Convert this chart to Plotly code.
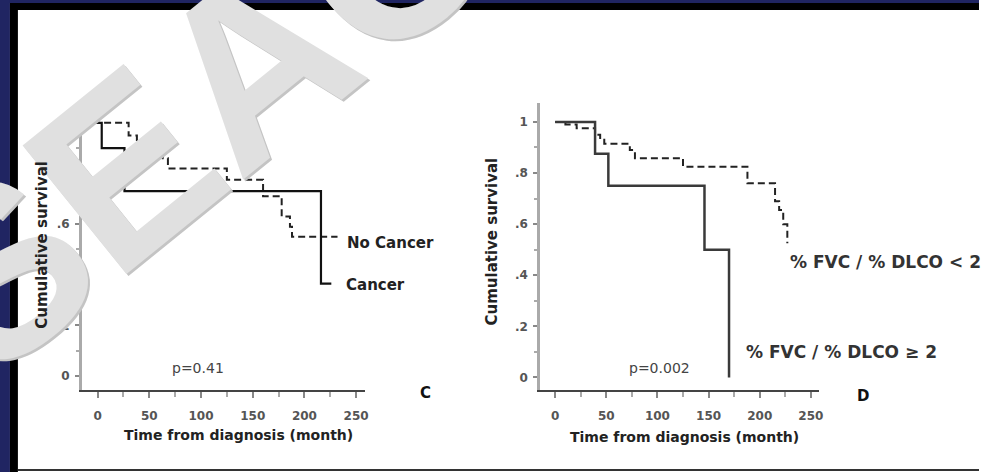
import plotly.graph_objects as go

W, H = 984, 472

# ---------------- data ----------------
# Panel C  (curves start at the y axis in the picture)
cancer_t = [-15, 4, 26, 216, 226]
cancer_s = [1.0, 0.90, 0.73, 0.365, 0.365]
nocancer_t = [-15, 30, 38, 63, 68, 125, 160, 178, 186, 188, 232]
nocancer_s = [1.0, 0.95, 0.90, 0.86, 0.82, 0.775, 0.71, 0.63, 0.59, 0.55, 0.55]
# Panel D
low_t = [0, 10, 21, 39, 44, 48, 73, 78, 125, 188, 215, 219, 223, 227]
low_s = [1.0, 0.99, 0.975, 0.95, 0.93, 0.915, 0.89, 0.858, 0.825, 0.76, 0.69, 0.655, 0.60, 0.525]
high_t = [0, 39, 52, 146, 170]
high_s = [1.0, 0.875, 0.75, 0.5, 0.0]

x_ticks = [0, 50, 100, 150, 200, 250]
y_ticks = [0, 0.2, 0.4, 0.6, 0.8, 1.0]
y_ticktext = ["0", ".2", ".4", ".6", ".8", "1"]

p_left = "p=0.41"
p_right = "p=0.002"
label_cancer = "Cancer"
label_nocancer = "No Cancer"
label_low = "% FVC / % DLCO < 2"
label_high = "% FVC / % DLCO \u2265 2"
x_title = "Time from diagnosis (month)"
y_title = "Cumulative survival"
watermark = "SEAC"


def px(x):
    return x / W


def py(y):
    return 1 - y / H


FONT = "DejaVu Sans"
fig = go.Figure()

fig.add_trace(go.Scatter(x=nocancer_t, y=nocancer_s, mode="lines", line_shape="hv",
                         line=dict(color="#222", width=2, dash="7px,4px"),
                         xaxis="x", yaxis="y", showlegend=False))
fig.add_trace(go.Scatter(x=cancer_t, y=cancer_s, mode="lines", line_shape="hv",
                         line=dict(color="#111", width=2.2),
                         xaxis="x", yaxis="y", showlegend=False))
fig.add_trace(go.Scatter(x=low_t, y=low_s, mode="lines", line_shape="hv",
                         line=dict(color="#222", width=2, dash="7px,4px"),
                         xaxis="x2", yaxis="y2", showlegend=False))
fig.add_trace(go.Scatter(x=high_t, y=high_s, mode="lines", line_shape="hv",
                         line=dict(color="#3a3a3a", width=2.5),
                         xaxis="x2", yaxis="y2", showlegend=False))

tickfont = dict(family=FONT, size=12, color="#555", weight="bold")

xcommon = dict(tickvals=x_ticks, ticks="outside", ticklen=6, tickwidth=1.5,
               tickcolor="#888", showline=True, linecolor="#444", linewidth=2,
               showgrid=False, zeroline=False, tickfont=tickfont,
               ticklabelstandoff=8,
               minor=dict(ticks="outside", dtick=25, ticklen=5, tickcolor="#aaa", tickwidth=1.5))
ycommon = dict(tickvals=y_ticks, ticktext=y_ticktext, ticks="outside", ticklen=4,
               tickwidth=1.5, tickcolor="#888", showline=True, linecolor="#aaa",
               linewidth=3, showgrid=False, zeroline=False, tickfont=tickfont,
               ticklabelstandoff=3,
               minor=dict(ticks="outside", dtick=0.1, ticklen=3, tickcolor="#aaa", tickwidth=1.5))

fig.update_layout(
    width=W, height=H, margin=dict(l=0, r=0, t=0, b=0),
    paper_bgcolor="white", plot_bgcolor="rgba(0,0,0,0)",
    xaxis=dict(domain=[px(82.5), px(367)], range=[-15, 258.7], anchor="y", **xcommon),
    yaxis=dict(domain=[py(390), py(113)], range=[-0.0553, 1.039], anchor="x", **ycommon),
    xaxis2=dict(domain=[px(543), px(823)], range=[-14.6, 257.8], anchor="y2", **xcommon),
    yaxis2=dict(domain=[py(390), py(103)], range=[-0.049, 1.074], anchor="x2", **ycommon),
)

# frame: navy outer band, black inner band, thin dark bottom line
shapes = [
    dict(type="rect", xref="paper", yref="paper", x0=0, x1=1, y0=py(3), y1=1,
         fillcolor="#202562", line_width=0, layer="below"),
    dict(type="rect", xref="paper", yref="paper", x0=0, x1=px(10), y0=0, y1=1,
         fillcolor="#202562", line_width=0, layer="below"),
    dict(type="rect", xref="paper", yref="paper", x0=px(10), x1=1, y0=py(10), y1=py(3),
         fillcolor="#000", line_width=0, layer="below"),
    dict(type="rect", xref="paper", yref="paper", x0=px(10), x1=px(18), y0=0, y1=py(3),
         fillcolor="#000", line_width=0, layer="below"),
    dict(type="rect", xref="paper", yref="paper", x0=px(18), x1=1, y0=py(471), y1=py(469),
         fillcolor="#333", line_width=0, layer="below"),
]
fig.update_layout(shapes=shapes)

lab = dict(family=FONT, size=15, color="#222", weight="bold")
flab = dict(family=FONT, size=17, color="#333", weight="bold")
ttl = dict(family=FONT, size=14, color="#222", weight="bold")
C = dict(xanchor="center", yanchor="middle", showarrow=False)
L = dict(xanchor="left", yanchor="middle", showarrow=False)
wm_font = dict(family="Liberation Sans", size=240, weight="bold")
ann = [
    # watermark: soft shadow + light fill
    dict(text=watermark, x=px(198), y=py(110), xref="paper", yref="paper", xshift=2, yshift=-2,
         textangle=-39, font=dict(color="#c4c4c4", **wm_font), **C),
    dict(text=watermark, x=px(198), y=py(110), xref="paper", yref="paper",
         textangle=-39, font=dict(color="#e0e0e0", **wm_font), **C),
    dict(text=label_nocancer, x=239, y=0.526, xref="x", yref="y", font=lab, **L),
    dict(text=label_cancer, x=238, y=0.36, xref="x", yref="y", font=lab, **L),
    dict(text=p_left, x=97, y=0.03, xref="x", yref="y",
         font=dict(family=FONT, size=14, color="#444"), **C),
    dict(text=label_low, x=227.6, y=0.452, xref="x2", yref="y2", font=flab, **L),
    dict(text=label_high, x=185, y=0.10, xref="x2", yref="y2", font=flab, **L),
    dict(text=p_right, x=102, y=0.037, xref="x2", yref="y2",
         font=dict(family=FONT, size=14, color="#444"), **C),
    dict(text="C", x=px(428), y=py(393), xref="paper", yref="paper",
         font=dict(family=FONT, size=15, color="#111", weight="bold"), **C),
    dict(text="D", x=px(867), y=py(396), xref="paper", yref="paper",
         font=dict(family=FONT, size=15, color="#111", weight="bold"), **C),
    dict(text=x_title, x=px(240), y=py(435), xref="paper", yref="paper", font=ttl, **C),
    dict(text=x_title, x=px(688), y=py(437), xref="paper", yref="paper", font=ttl, **C),
    dict(text=y_title, x=px(42), y=py(245), xref="paper", yref="paper",
         textangle=-90, font=dict(family=FONT, size=15, color="#222", weight="bold"), **C),
    dict(text=y_title, x=px(495), y=py(241), xref="paper", yref="paper",
         textangle=-90, font=dict(family=FONT, size=15, color="#222", weight="bold"), **C),
]
fig.update_layout(annotations=ann)

fig.write_html(
    "out.html",
    config={"displayModeBar": False},
    post_script="document.documentElement.style.overflow='hidden';"
                "document.body.style.overflow='hidden';document.body.style.margin='0';"
                "document.body.style.background='white';",
)
